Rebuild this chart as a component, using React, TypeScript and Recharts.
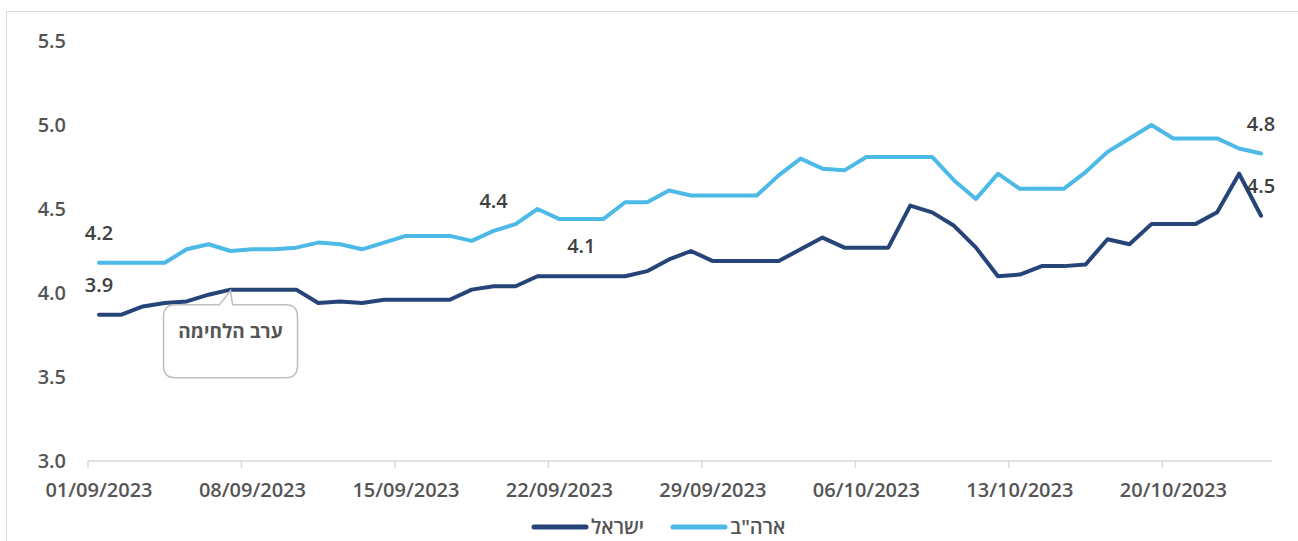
import React from 'react';
import { LineChart, Line, XAxis, YAxis, LabelList, ReferenceDot, ReferenceLine } from 'recharts';

const FONT = "'Open Sans', 'Liberation Sans', sans-serif";

// one row per day, 01/09/2023 .. 24/10/2023
const dates = [
  '01/09/2023', '02/09/2023', '03/09/2023', '04/09/2023', '05/09/2023', '06/09/2023', '07/09/2023',
  '08/09/2023', '09/09/2023', '10/09/2023', '11/09/2023', '12/09/2023', '13/09/2023', '14/09/2023',
  '15/09/2023', '16/09/2023', '17/09/2023', '18/09/2023', '19/09/2023', '20/09/2023', '21/09/2023',
  '22/09/2023', '23/09/2023', '24/09/2023', '25/09/2023', '26/09/2023', '27/09/2023', '28/09/2023',
  '29/09/2023', '30/09/2023', '01/10/2023', '02/10/2023', '03/10/2023', '04/10/2023', '05/10/2023',
  '06/10/2023', '07/10/2023', '08/10/2023', '09/10/2023', '10/10/2023', '11/10/2023', '12/10/2023',
  '13/10/2023', '14/10/2023', '15/10/2023', '16/10/2023', '17/10/2023', '18/10/2023', '19/10/2023',
  '20/10/2023', '21/10/2023', '22/10/2023', '23/10/2023', '24/10/2023',
];

const israel = [
  3.87, 3.87, 3.92, 3.94, 3.95, 3.99, 4.02, 4.02, 4.02, 4.02,
  3.94, 3.95, 3.94, 3.96, 3.96, 3.96, 3.96, 4.02, 4.04, 4.04,
  4.10, 4.10, 4.10, 4.10, 4.10, 4.13, 4.20, 4.25, 4.19, 4.19,
  4.19, 4.19, 4.26, 4.33, 4.27, 4.27, 4.27, 4.52, 4.48, 4.40,
  4.27, 4.10, 4.11, 4.16, 4.16, 4.17, 4.32, 4.29, 4.41, 4.41,
  4.41, 4.48, 4.71, 4.46,
];

const usa = [
  4.18, 4.18, 4.18, 4.18, 4.26, 4.29, 4.25, 4.26, 4.26, 4.27,
  4.30, 4.29, 4.26, 4.30, 4.34, 4.34, 4.34, 4.31, 4.37, 4.41,
  4.50, 4.44, 4.44, 4.44, 4.54, 4.54, 4.61, 4.58, 4.58, 4.58,
  4.58, 4.70, 4.80, 4.74, 4.73, 4.81, 4.81, 4.81, 4.81, 4.67,
  4.56, 4.71, 4.62, 4.62, 4.62, 4.72, 4.84, 4.92, 5.00, 4.92,
  4.92, 4.92, 4.86, 4.83,
];

const yTicks = [3, 3.5, 4, 4.5, 5, 5.5];
const tickDays = [0, 7, 14, 21, 28, 35, 42, 49];
const ilLabelDays = [0, 22, 53];
const usLabelDays = [0, 18, 53];
const calloutDay = 6;
const calloutText = 'ערב הלחימה';
const ilName = 'ישראל';
const usName = 'ארה"ב';

const IL_COLOR = '#264478';
const US_COLOR = '#4CB9E7';
const TEXT = '#555555';
const AXIS = '#d9d9d9';

const data = dates.map((date, i) => ({
  idx: i,
  date,
  il: israel[i],
  us: usa[i],
  ilLabel: ilLabelDays.includes(i) ? israel[i] : null,
  usLabel: usLabelDays.includes(i) ? usa[i] : null,
}));

const renderValue = (props: any) => {
  const { x, y, value } = props;
  if (value == null) return null;
  return (
    <text x={x} y={y - 23} textAnchor="middle" fill="#404040" fontSize={20} fontWeight={600} fontFamily={FONT}>
      {Number(value).toFixed(1)}
    </text>
  );
};

const Callout = (props: any) => {
  const { cx, cy } = props;
  const tip = cy + 1;
  const l = cx - 67, r = cx + 67, t = cy + 15, b = cy + 88, rad = 12;
  const d = `M ${l + rad} ${t} L ${cx - 11} ${t} L ${cx} ${tip} L ${cx + 2} ${t} L ${r - rad} ${t}
    Q ${r} ${t} ${r} ${t + rad} L ${r} ${b - rad} Q ${r} ${b} ${r - rad} ${b} L ${l + rad} ${b}
    Q ${l} ${b} ${l} ${b - rad} L ${l} ${t + rad} Q ${l} ${t} ${l + rad} ${t} Z`;
  return (
    <g>
      <path d={d} fill="#ffffff" stroke="#bfbfbf" strokeWidth={1.5} />
      <text x={cx} y={cy + 48} textAnchor="middle" fill={TEXT} fontSize={19} fontWeight="bold" fontFamily={FONT}>
        {calloutText}
      </text>
    </g>
  );
};

const LegendItem = ({ color, name }: { color: string; name: string }) => (
  <div style={{ display: 'flex', alignItems: 'center', marginRight: 26 }}>
    <svg width={58} height={8}>
      <line x1={3} y1={4} x2={55} y2={4} stroke={color} strokeWidth={5} strokeLinecap="round" />
    </svg>
    <span style={{ marginLeft: 2, fontSize: 20, fontWeight: 600, color: TEXT, fontFamily: FONT, lineHeight: '24px' }}>{name}</span>
  </div>
);

const App: React.FC = () => {
  return (
    <div style={{ position: 'absolute', left: 0, top: 0, width: 1298, height: 541, background: '#fff' }}>
      <div style={{ position: 'absolute', left: 6, top: 11, width: 1292, height: 1, background: AXIS }} />
      <div style={{ position: 'absolute', left: 6, top: 11, width: 1, height: 530, background: AXIS }} />

      <div style={{ position: 'absolute', left: 0, top: 0 }}>
        <LineChart width={1298} height={541} data={data} margin={{ top: 41, right: 26, bottom: 40, left: 0 }}>
          <XAxis
            type="number"
            dataKey="idx"
            domain={[-0.5, 53.5]}
            ticks={tickDays}
            tickFormatter={(v: number) => dates[v]}
            axisLine={{ stroke: AXIS, strokeWidth: 1.5 }}
            tickLine={false}
            tickSize={0}
            tickMargin={22}
            height={40}
            interval={0}
            tick={{ fill: TEXT, fontSize: 20, fontWeight: 600, fontFamily: FONT }}
          />
          <YAxis
            type="number"
            domain={[3, 5.5]}
            ticks={yTicks}
            tickFormatter={(v: number) => v.toFixed(1)}
            axisLine={false}
            tickLine={false}
            tickSize={0}
            tickMargin={22}
            width={88}
            interval={0}
            tick={{ fill: TEXT, fontSize: 20, fontWeight: 600, fontFamily: FONT }}
          />
          {tickDays.map((d) => (
            <ReferenceLine
              key={`tk-${d}`}
              segment={[{ x: d - 0.5, y: 3 }, { x: d - 0.5, y: 2.958 }]}
              stroke={AXIS}
              strokeWidth={1.5}
              ifOverflow="visible"
            />
          ))}
          <Line
            dataKey="us"
            name={usName}
            stroke={US_COLOR}
            strokeWidth={4}
            strokeLinecap="round"
            strokeLinejoin="round"
            dot={false}
            isAnimationActive={false}
          >
            <LabelList dataKey="usLabel" content={renderValue} />
          </Line>
          <Line
            dataKey="il"
            name={ilName}
            stroke={IL_COLOR}
            strokeWidth={4}
            strokeLinecap="round"
            strokeLinejoin="round"
            dot={false}
            isAnimationActive={false}
          >
            <LabelList dataKey="ilLabel" content={renderValue} />
          </Line>
          <ReferenceDot
            x={calloutDay}
            y={israel[calloutDay]}
            ifOverflow="visible"
            shape={Callout}
          />
        </LineChart>
      </div>

      <div style={{ position: 'absolute', left: 531, top: 515, display: 'flex', alignItems: 'center' }}>
        <LegendItem color={IL_COLOR} name={ilName} />
        <LegendItem color={US_COLOR} name={usName} />
      </div>
    </div>
  );
};

export default App;
